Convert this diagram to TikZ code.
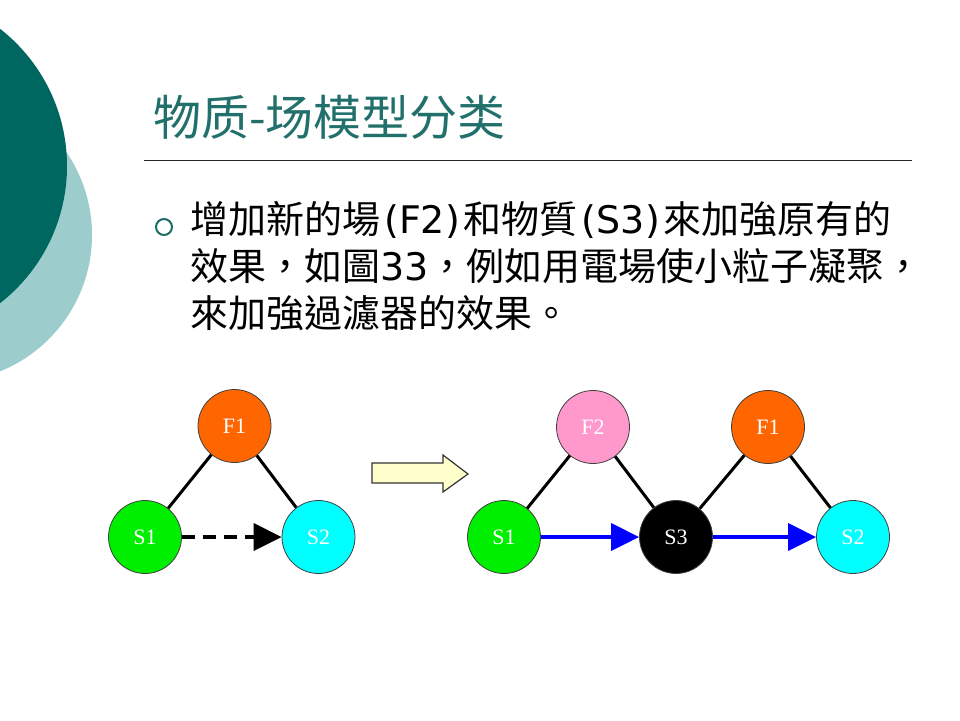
\documentclass[tikz,border=0pt]{standalone}
\usepackage{fontspec}
\newfontfamily\cjktc{Noto Sans CJK TC}
\newfontfamily\cjksc{Noto Sans CJK SC}
\newfontfamily\latsans{DejaVu Sans}
\newfontfamily\serifl{Liberation Serif}
\usetikzlibrary{arrows.meta}
\definecolor{darkteal}{HTML}{006660}
\definecolor{lightteal}{HTML}{9DCCCC}
\definecolor{titleteal}{HTML}{22706B}
\definecolor{bulletteal}{HTML}{1F6B66}
\definecolor{orangeF}{HTML}{FF6600}
\definecolor{greenS}{HTML}{00EE00}
\definecolor{cyanS}{HTML}{00FFFF}
\definecolor{pinkF}{HTML}{FF99CC}
\definecolor{paleyellow}{HTML}{FFFFCC}
\definecolor{flowblue}{HTML}{0000FF}
\newcommand{\latgrp}[1]{\kern4pt{\latsans #1}\kern4pt}
\begin{document}
\begin{tikzpicture}[x=1pt,y=-1pt,
  nd/.style={circle, draw=black!75, line width=0.8pt, minimum size=73pt, inner sep=0pt,
    font=\serifl\fontsize{22}{22}\selectfont, text=white},
  link/.style={line width=3pt, black},
  flow/.style={line width=3.5pt, -{Triangle[length=28pt,width=27pt]}},
  bodytext/.style={anchor=base west, inner sep=0pt, font=\cjktc\fontsize{38}{46}\selectfont, text=black}
]
\useasboundingbox (0,0) rectangle (960,720);
% background circles
\fill[lightteal] (-55,235) circle[radius=147pt];
\fill[darkteal] (-107,166) circle[radius=174pt];
% title
\node[anchor=base west, inner sep=0pt, font=\cjksc\fontsize{48}{48}\selectfont, text=titleteal] (title) at (153,135) {物质-场模型分类};
\draw[line width=1pt, black!85] (144,160) -- (912,160);
% bullet
\draw[bulletteal, line width=2pt] (164,227) circle[radius=8pt];
\node[bodytext] (l1) at (190,233) {增加新的場\latgrp{(F2)}和物質\latgrp{(S3)}來加強原有的};
\node[bodytext] (l2) at (190,280) {效果，如圖{\latsans 33}，例如用電場使小粒子凝聚，};
\node[bodytext] (l3) at (190,327) {來加強過濾器的效果。};
% left diagram
\node[nd, fill=orangeF] (LF1) at (234.5,426) {F1};
\node[nd, fill=greenS] (LS1) at (145,537) {S1};
\node[nd, fill=cyanS] (LS2) at (318.5,537) {S2};
\draw[link] (LF1) -- (LS1);
\draw[link] (LF1) -- (LS2);
\draw[flow, black, dash pattern=on 13pt off 8pt] (LS1) -- (LS2);
% block arrow
\filldraw[fill=paleyellow, draw=black!80, line width=1.2pt, line join=miter]
  (372,463) -- (443,463) -- (443,455) -- (468,474) -- (443,492) -- (443,483) -- (372,483) -- cycle;
% right diagram
\node[nd, fill=greenS] (RS1) at (504,537) {S1};
\node[nd, fill=pinkF] (RF2) at (593,427) {F2};
\node[nd, fill=black] (RS3) at (676,537) {S3};
\node[nd, fill=orangeF] (RF1) at (768,427) {F1};
\node[nd, fill=cyanS] (RS2) at (853,537) {S2};
\draw[link] (RF2) -- (RS1);
\draw[link] (RF2) -- (RS3);
\draw[link] (RF1) -- (RS3);
\draw[link] (RF1) -- (RS2);
\draw[flow, flowblue] (RS1) -- (RS3);
\draw[flow, flowblue] (RS3) -- (RS2);
\end{tikzpicture}
\end{document}
